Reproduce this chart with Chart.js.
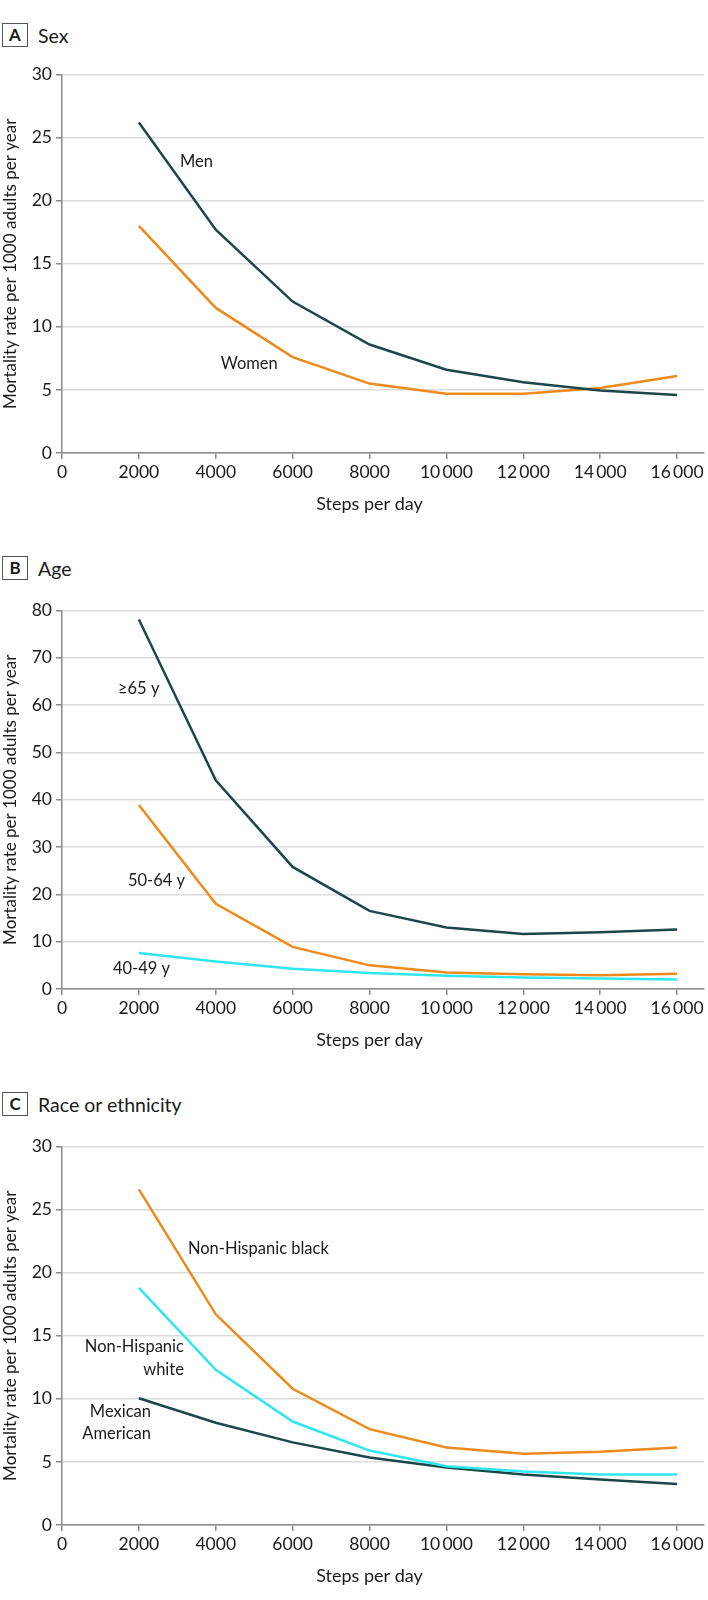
<!DOCTYPE html>
<html>
<head>
<meta charset="utf-8">
<script src="https://cdn.jsdelivr.net/npm/chart.js@4.4.1/dist/chart.umd.min.js"></script>
<style>
  body { margin: 0; background: #fff; width: 708px; height: 1600px; position: relative; font-family: Lato, sans-serif; color: #1a1a1a; }
  .head { position: absolute; left: 2px; display: flex; align-items: center; font-size: 19.5px; }
  .head b { display: inline-block; box-sizing: border-box; width: 26px; height: 24px; border: 1px solid #555; text-align: center; line-height: 22px; margin-right: 10px; font-size: 17px; }
  canvas { position: absolute; left: 0; }
</style>
</head>
<body>
<div class="head" style="top:23px"><b>A</b>Sex</div>
<canvas id="chartSex" width="708" height="457" style="top:60px"></canvas>
<div class="head" style="top:556px"><b>B</b>Age</div>
<canvas id="chartAge" width="708" height="457" style="top:596px"></canvas>
<div class="head" style="top:1092px"><b>C</b>Race or ethnicity</div>
<canvas id="chartRace" width="708" height="457" style="top:1132px"></canvas>
<script>
const steps = [2000, 4000, 6000, 8000, 10000, 12000, 14000, 16000];
const xTickValues = [0, 2000, 4000, 6000, 8000, 10000, 12000, 14000, 16000];
const xTickLabels = ['0', '2000', '4000', '6000', '8000', '10\u2009000', '12\u2009000', '14\u2009000', '16\u2009000'];

// A: sex
const menRate = [26.2, 17.7, 12.0, 8.6, 6.6, 5.6, 4.95, 4.6];
const womenRate = [18.0, 11.5, 7.6, 5.5, 4.7, 4.7, 5.15, 6.1];

// B: age
const age65Rate = [78.1, 44.1, 25.8, 16.5, 13.0, 11.6, 12.0, 12.6];
const age50Rate = [38.9, 18.0, 8.9, 5.0, 3.5, 3.1, 2.9, 3.2];
const age40Rate = [7.6, 5.8, 4.3, 3.4, 2.8, 2.45, 2.2, 2.0];

// C: race or ethnicity
const blackRate = [26.6, 16.7, 10.8, 7.6, 6.15, 5.65, 5.8, 6.15];
const whiteRate = [18.8, 12.3, 8.2, 5.9, 4.65, 4.25, 4.0, 4.0];
const mexicanRate = [10.05, 8.1, 6.55, 5.35, 4.55, 4.0, 3.6, 3.25];

const DARK = '#1b4749', ORANGE = '#ee8a1c', CYAN = '#30e6ee';
const FONT = 'Lato';
const TXT = '#1a1a1a';

// line labels + x axis title (centred on the tick range)
const labelPlugin = {
  id: 'lineLabels',
  afterDraw(chart, args, opts) {
    const { ctx, scales: { x, y } } = chart;
    ctx.save();
    ctx.font = '16.5px ' + FONT;
    ctx.fillStyle = TXT;
    ctx.textBaseline = 'middle';
    (opts.items || []).forEach(it => {
      ctx.textAlign = it.align || 'left';
      ctx.fillText(it.text, x.getPixelForValue(it.x), y.getPixelForValue(it.y));
    });
    ctx.textAlign = 'center';
    ctx.font = '18px ' + FONT;
    const mid = (xTickValues[0] + xTickValues[xTickValues.length - 1]) / 2;
    ctx.fillText('Steps per day', x.getPixelForValue(mid), x.top + 51);
    ctx.restore();
  }
};

function makeChart(id, series, yMax, yStep, notes) {
  return new Chart(document.getElementById(id), {
    type: 'line',
    data: {
      datasets: series.map(s => ({
        label: s.label,
        data: steps.map((v, i) => ({ x: v, y: s.values[i] })),
        borderColor: s.color,
        borderWidth: 2.5,
        pointRadius: 0,
        tension: 0,
        fill: false
      }))
    },
    options: {
      responsive: false,
      animation: false,
      layout: { padding: { top: 12, right: 4, left: 0, bottom: 0 } },
      plugins: { legend: { display: false }, tooltip: { enabled: false }, lineLabels: { items: notes } },
      scales: {
        x: {
          type: 'linear', min: 0, max: 16700,
          afterBuildTicks: s => { s.ticks = xTickValues.map(v => ({ value: v })); },
          afterFit: s => { s.height = 64; },
          ticks: {
            autoSkip: false, maxRotation: 0, padding: 3, color: TXT,
            font: { family: FONT, size: 17.5 },
            callback: v => xTickLabels[xTickValues.indexOf(v)]
          },
          grid: { drawOnChartArea: false, tickLength: 6, tickColor: '#8a8a8a', lineWidth: 1.5 },
          border: { color: '#8a8a8a', width: 1.5 }
        },
        y: {
          min: 0, max: yMax,
          afterFit: s => { s.width = 62; },
          ticks: { stepSize: yStep, padding: 4, color: TXT, font: { family: FONT, size: 17.5 } },
          grid: { color: '#dcdcdc', lineWidth: 1.5, tickLength: 6, tickColor: '#8a8a8a' },
          border: { color: '#8a8a8a', width: 1.5 },
          title: {
            display: true, text: 'Mortality rate per 1000 adults per year',
            color: TXT, font: { family: FONT, size: 17 }, padding: { top: 0, bottom: 0 }
          }
        }
      }
    },
    plugins: [labelPlugin]
  });
}

makeChart('chartSex', [
  { label: 'Men', values: menRate, color: DARK },
  { label: 'Women', values: womenRate, color: ORANGE }
], 30, 5, [
  { text: 'Men', x: 3070, y: 23.1 },
  { text: 'Women', x: 4130, y: 7.05 }
]);

makeChart('chartAge', [
  { label: '≥65 y', values: age65Rate, color: DARK },
  { label: '50-64 y', values: age50Rate, color: ORANGE },
  { label: '40-49 y', values: age40Rate, color: CYAN }
], 80, 10, [
  { text: '≥65 y', x: 1456, y: 63.5 },
  { text: '50-64 y', x: 1716, y: 22.8 },
  { text: '40-49 y', x: 1326, y: 4.2 }
]);

makeChart('chartRace', [
  { label: 'Non-Hispanic black', values: blackRate, color: ORANGE },
  { label: 'Non-Hispanic white', values: whiteRate, color: CYAN },
  { label: 'Mexican American', values: mexicanRate, color: DARK }
], 30, 5, [
  { text: 'Non-Hispanic black', x: 3275, y: 21.9 },
  { text: 'Non-Hispanic', x: 3171, y: 14.1, align: 'right' },
  { text: 'white', x: 3171, y: 12.28, align: 'right' },
  { text: 'Mexican', x: 2314, y: 8.97, align: 'right' },
  { text: 'American', x: 2314, y: 7.26, align: 'right' }
]);
</script>
</body>
</html>
